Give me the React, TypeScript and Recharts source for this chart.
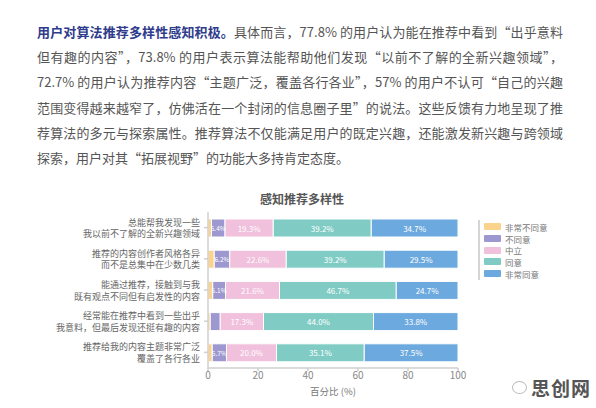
import { BarChart, Bar, XAxis, YAxis, LabelList } from 'recharts';

// statements on the y axis (two lines each)
const categories = [
  ['总能帮我发现一些', '我以前不了解的全新兴趣领域'],
  ['推荐的内容创作者风格各异', '而不是总集中在少数几类'],
  ['能通过推荐，接触到与我', '既有观点不同但有启发性的内容'],
  ['经常能在推荐中看到一些出乎', '我意料，但最后发现还挺有趣的内容'],
  ['推荐给我的内容主题非常广泛', '覆盖了各行各业'],
];

const stronglyDisagree = [1.4, 2.5, 1.9, 0.9, 1.7];
const disagree = [5.4, 6.2, 5.1, 4.0, 5.7];
const neutral = [19.3, 22.6, 21.6, 17.3, 20.0];
const agree = [39.2, 39.2, 46.7, 44.0, 35.1];
const stronglyAgree = [34.7, 29.5, 24.7, 33.8, 37.5];

const xTicks = [0, 20, 40, 60, 80, 100];

const series = [
  { key: 'sd', name: '非常不同意', color: '#fbd38d', values: stronglyDisagree },
  { key: 'd', name: '不同意', color: '#9d98cf', values: disagree },
  { key: 'n', name: '中立', color: '#f0c0dc', values: neutral },
  { key: 'a', name: '同意', color: '#80ccc5', values: agree },
  { key: 'sa', name: '非常同意', color: '#6ca9de', values: stronglyAgree },
];

const data = categories.map((c, i) => {
  const row: any = { name: c.join('|') };
  series.forEach((s) => (row[s.key] = s.values[i]));
  return row;
});

const font = '"Noto Sans CJK SC", "Noto Sans", sans-serif';

const paragraph = [
  '具体而言，77.8% 的用户认为能在推荐中看到“出乎意料',
  '但有趣的内容”，73.8% 的用户表示算法能帮助他们发现“以前不了解的全新兴趣领域”，',
  '72.7% 的用户认为推荐内容“主题广泛，覆盖各行各业”，57% 的用户不认可“自己的兴趣',
  '范围变得越来越窄了，仿佛活在一个封闭的信息圈子里”的说法。这些反馈有力地呈现了推',
  '荐算法的多元与探索属性。推荐算法不仅能满足用户的既定兴趣，还能激发新兴趣与跨领域',
  '探索，用户对其“拓展视野”的功能大多持肯定态度。',
];

const CategoryTick = (props: any) => {
  const { x, y, payload } = props;
  const lines = String(payload.value).split('|');
  return (
    <text x={x} y={y} textAnchor="end" fontSize={9} fill="#666" fontFamily={font}>
      <tspan x={x} y={y - 5.5} dominantBaseline="central">{lines[0]}</tspan>
      <tspan x={x} y={y + 6} dominantBaseline="central">{lines[1]}</tspan>
    </text>
  );
};

const SegmentLabel = (props: any) => {
  const { x, y, width, height, value } = props;
  if (value < 5) return null;
  return (
    <text x={x + width / 2} y={y + height / 2} textAnchor="middle" dominantBaseline="central"
      fontSize={value < 10 ? 6.5 : 8} fill="#fff" fontFamily={font}>
      {Number(value).toFixed(1)}%
    </text>
  );
};

export default function App() {
  return (
    <div style={{ position: 'absolute', left: 0, top: 0, width: 596, height: 408, background: '#fff', overflow: 'hidden' }}>
      <div style={{ position: 'absolute', left: 37, top: 19, width: 526, fontFamily: font, fontSize: 13, lineHeight: '25.2px', color: '#555' }}>
        {paragraph.map((line, i) => (
          <div key={i} style={{ textAlign: 'justify', textAlignLast: i < paragraph.length - 1 ? 'justify' : 'left', whiteSpace: 'nowrap' }}>
            {i === 0 && <span style={{ color: '#2f3c8c', fontWeight: 700 }}>用户对算法推荐多样性感知积极。</span>}
            {line}
          </div>
        ))}
      </div>

      <div style={{ position: 'absolute', left: 202, top: 190, width: 200, textAlign: 'center', fontFamily: font, fontSize: 12, fontWeight: 700, color: '#555' }}>
        感知推荐多样性
      </div>

      <div style={{ position: 'absolute', left: 0, top: 0 }}>
        <BarChart width={596} height={408} data={data} layout="vertical"
          margin={{ top: 212, right: 138, bottom: 13, left: 58 }} barSize={18}>
          <XAxis type="number" domain={[0, 100]} ticks={xTicks} interval={0}
            stroke="#cfcfcf" strokeWidth={1.5} tickSize={3} tickMargin={1} height={27}
            tick={{ fontSize: 10, fill: '#888', fontFamily: font }}
            label={{ value: '百分比 (%)', position: 'insideBottom', offset: 0, fontSize: 9.5, fill: '#777', fontFamily: font }} />
          <YAxis type="category" dataKey="name" width={150} stroke="#cfcfcf" strokeWidth={1.5}
            tickSize={4} tickMargin={4} tick={<CategoryTick />} interval={0} />
          {series.map((s) => (
            <Bar key={s.key} dataKey={s.key} name={s.name} stackId="a" fill={s.color}
              stroke="#fff" strokeWidth={1} isAnimationActive={false}>
              <LabelList dataKey={s.key} content={<SegmentLabel />} />
            </Bar>
          ))}
        </BarChart>
      </div>

      <div style={{ position: 'absolute', left: 478, top: 220, borderLeft: '2px solid #d5d5d5', paddingLeft: 4, paddingTop: 1, paddingBottom: 1 }}>
        {series.map((s) => (
          <div key={s.key} style={{ display: 'flex', alignItems: 'center', height: 11.7 }}>
            <span style={{ width: 17, height: 7, background: s.color, borderRadius: 1, marginRight: 4 }} />
            <span style={{ fontSize: 8.5, color: '#777', fontFamily: font, lineHeight: '10px' }}>{s.name}</span>
          </div>
        ))}
      </div>

      <div style={{ position: 'absolute', left: 512, top: 374, display: 'flex', alignItems: 'center', fontFamily: font }}>
        <span style={{ width: 13, height: 11, border: '1.5px solid #bbb', borderRadius: '50%', marginRight: 4 }} />
        <span style={{ fontSize: 19, fontWeight: 700, color: '#555', letterSpacing: 1 }}>思创网</span>
      </div>
    </div>
  );
}
